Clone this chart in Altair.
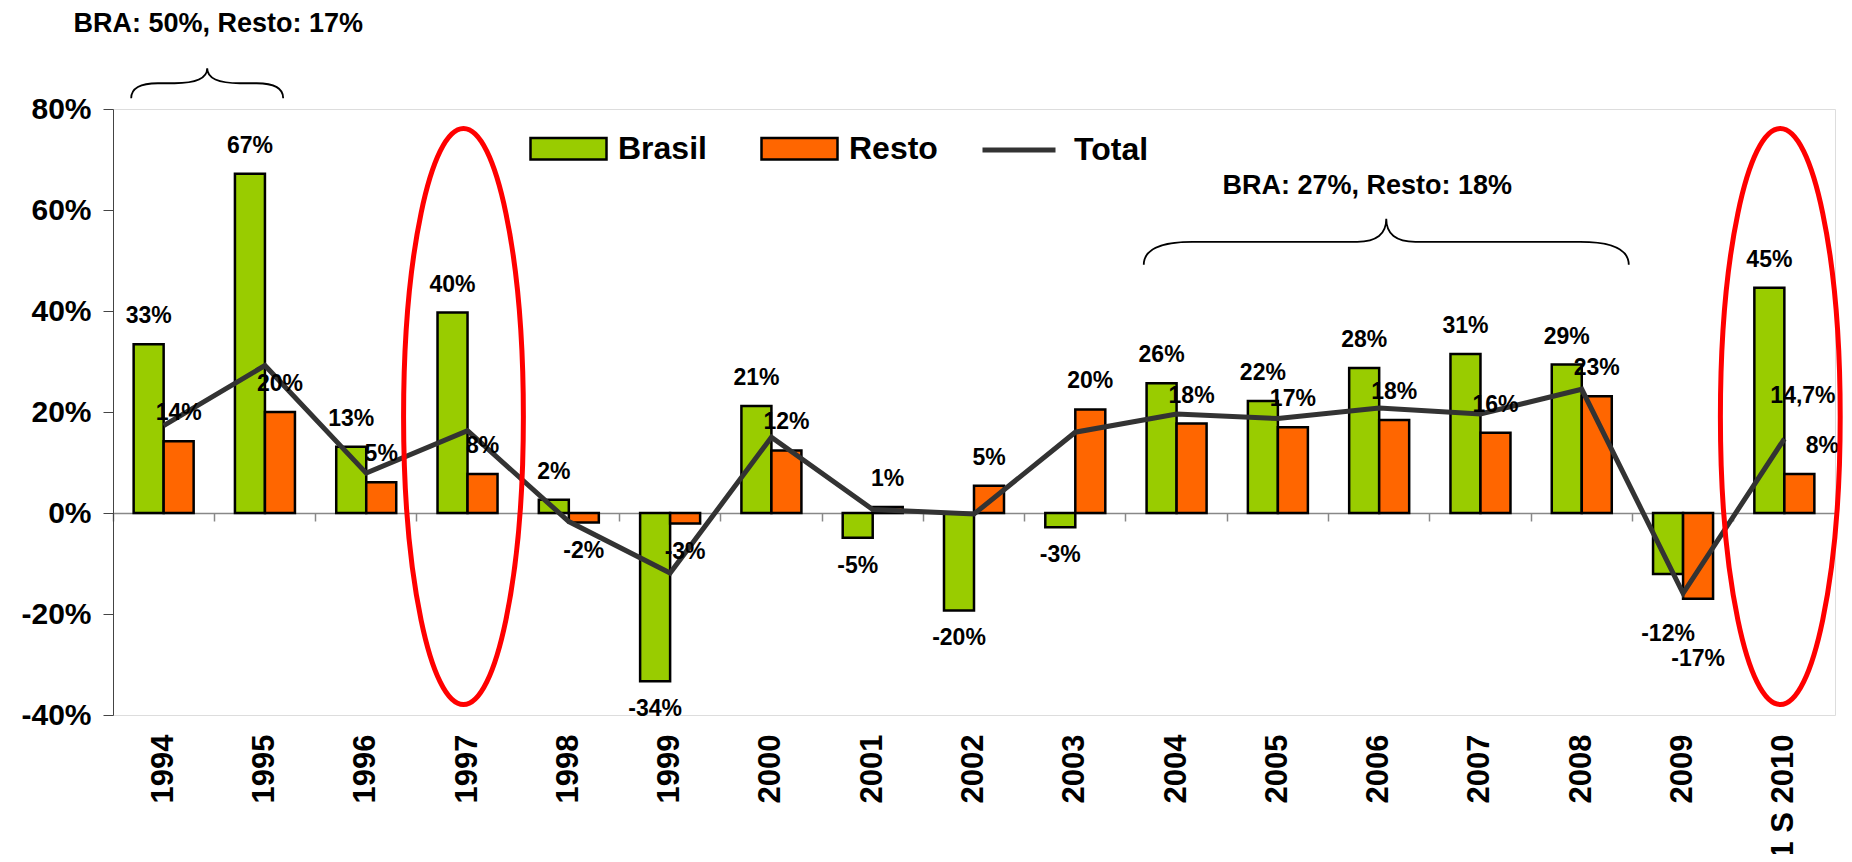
import altair as alt
import pandas as pd

# ---------------- data ----------------
years = ["1994", "1995", "1996", "1997", "1998", "1999", "2000", "2001", "2002",
         "2003", "2004", "2005", "2006", "2007", "2008", "2009", "1 S 2010"]
brasil = [33.4, 67.2, 13.1, 39.7, 2.6, -33.3, 21.2, -4.9, -19.3, -2.8,
          25.7, 22.2, 28.7, 31.5, 29.4, -12.1, 44.6]
resto = [14.2, 20.0, 6.1, 7.7, -1.9, -2.1, 12.4, 1.2, 5.4, 20.5,
         17.7, 17.0, 18.4, 15.9, 23.1, -17.0, 7.7]
total = [17.3, 29.2, 7.9, 16.3, -1.7, -11.9, 15.0, 0.7, -0.2, 16.0,
         19.6, 18.7, 20.8, 19.6, 24.5, -15.9, 14.7]
brasil_labels = ["33%", "67%", "13%", "40%", "2%", "-34%", "21%", "-5%", "-20%", "-3%",
                 "26%", "22%", "28%", "31%", "29%", "-12%", "45%"]
resto_labels = ["14%", "20%", "5%", "8%", "-2%", "-3%", "12%", "1%", "5%", "20%",
                "18%", "17%", "18%", "16%", "23%", "-17%", "8%"]
total_label = "14,7%"
bar_series = ["Brasil", "Resto"]
bar_colors = ["#99CC00", "#FF6600"]
line_series = ["Total"]
line_colors = ["#333333"]
annotation_texts = ["BRA: 50%, Resto: 17%", "BRA: 27%, Resto: 18%"]
highlight_years = ["1997", "1 S 2010"]
y_ticks = [-40, -20, 0, 20, 40, 60, 80]

FONT = "Liberation Sans"

bars_df = pd.DataFrame({
    "year": years * 2,
    "serie": ["Brasil"] * len(years) + ["Resto"] * len(years),
    "value": brasil + resto,
    "label": brasil_labels + resto_labels,
})
total_df = pd.DataFrame({"year": years, "serie": ["Total"] * len(years), "value": total})

# ---------------- scales / axes ----------------
cat_scale = alt.Scale(domain=years, paddingInner=0, paddingOuter=0)
off_scale = alt.Scale(domain=bar_series, paddingInner=0, paddingOuter=0.688)
y_scale = alt.Scale(domain=[-40, 80], nice=False, zero=False)
RECT = "M -1 -0.28 H 1 V 0.28 H -1 Z"

y_axis = alt.Axis(values=y_ticks, labelExpr="datum.value + '%'", title=None, grid=False,
                  labelFont=FONT, labelFontSize=30, labelFontWeight="bold", labelColor="black",
                  labelPadding=12, tickSize=10, tickColor="#444444", tickWidth=1,
                  domainColor="#444444", domainWidth=1)

bar_legend = alt.Legend(
    orient="none", legendX=416, legendY=0, direction="horizontal", title=None,
    symbolType=RECT, symbolSize=5776, symbolStrokeColor="black", symbolStrokeWidth=2.5,
    symbolOpacity=1, labelFont=FONT, labelFontSize=32, labelFontWeight="bold",
    labelColor="black", labelOffset=10, columnPadding=49, padding=0,
)
line_legend = alt.Legend(
    orient="none", legendX=867, legendY=2, direction="horizontal", title=None,
    symbolType="stroke", symbolSize=5329, symbolStrokeWidth=5, symbolOpacity=1,
    labelFont=FONT, labelFontSize=32, labelFontWeight="bold",
    labelColor="black", labelOffset=16, padding=0,
)

x_zero_axis = alt.Axis(orient="bottom", offset=-202, labels=False, ticks=True, tickSize=8,
                       tickColor="#888888", tickWidth=1.5, domainColor="#888888", domainWidth=1.5,
                       bandPosition=0, title=None, grid=False)
x_label_axis = alt.Axis(orient="bottom", domain=False, ticks=False, labelAngle=-90, labelPadding=19,
                        labelFont=FONT, labelFontSize=31, labelFontWeight="bold", labelColor="black",
                        title=None, grid=False, labelLimit=400)

# ---------------- layers ----------------
bars = alt.Chart(bars_df).mark_bar(stroke="black", strokeWidth=2.5).encode(
    x=alt.X("year:N", scale=cat_scale, axis=x_zero_axis),
    xOffset=alt.XOffset("serie:N", scale=off_scale),
    y=alt.Y("value:Q", scale=y_scale, axis=y_axis),
    color=alt.Color("serie:N", scale=alt.Scale(domain=bar_series, range=bar_colors), legend=bar_legend),
)

line = alt.Chart(total_df).mark_line(strokeWidth=5).encode(
    x=alt.X("year:N", scale=cat_scale, axis=x_label_axis),
    y=alt.Y("value:Q", scale=y_scale, axis=y_axis),
    color=alt.Color("serie:N", scale=alt.Scale(domain=line_series, range=line_colors), legend=line_legend),
)


def bar_labels(flt, dx, dy):
    return alt.Chart(bars_df).transform_filter(flt).mark_text(
        font=FONT, fontSize=23, fontWeight="bold", color="black", dx=dx, dy=dy, baseline="middle"
    ).encode(
        x=alt.X("year:N", scale=cat_scale, axis=None),
        xOffset=alt.XOffset("serie:N", scale=off_scale),
        y=alt.Y("value:Q", scale=y_scale, axis=y_axis),
        text="label:N",
    )


lab_pos = bar_labels("datum.value >= 0 && !(datum.year === '1 S 2010' && datum.serie === 'Resto')", 0, -28)
lab_neg = bar_labels("datum.value < 0 && datum.year !== '2009'", 0, 28)
lab_2009 = bar_labels("datum.value < 0 && datum.year === '2009'", 0, 60)
lab_2010 = bar_labels("datum.year === '1 S 2010' && datum.serie === 'Resto'", 23, -28)

total_lab = alt.Chart(total_df.tail(1).assign(t=total_label)).mark_text(
    font=FONT, fontSize=23, fontWeight="bold", color="black", align="left", dx=-14, dy=-43,
    baseline="middle"
).encode(
    x=alt.X("year:N", scale=cat_scale, axis=None),
    y=alt.Y("value:Q", scale=y_scale, axis=y_axis),
    text="t:N",
)


def annotation(text, year, band_pos, v, dx):
    d = pd.DataFrame({"year": [year], "v": [v], "t": [text]})
    return alt.Chart(d).mark_text(
        font=FONT, fontSize=27, fontWeight="bold", color="black", dx=dx, baseline="middle"
    ).encode(
        x=alt.X("year:N", scale=cat_scale, axis=None, bandPosition=band_pos),
        y=alt.Y("v:Q", scale=y_scale, axis=y_axis),
        text="t:N",
    )


ann1 = annotation(annotation_texts[0], "1994", 1.0, 96.9, 4)
ann2 = annotation(annotation_texts[1], "2006", 0.5, 64.7, -12)


def brace(year, band_pos, v, path, size):
    d = pd.DataFrame({"year": [year], "v": [v]})
    return alt.Chart(d).mark_point(
        shape=path, size=size, filled=False, stroke="black", strokeWidth=1.8, opacity=1
    ).encode(
        x=alt.X("year:N", scale=cat_scale, axis=None, bandPosition=band_pos),
        y=alt.Y("v:Q", scale=y_scale, axis=y_axis),
    )


brace1 = brace("1994", 0.93, 85.1,
               "M -1 0.197 Q -1 0 -0.65 0 L -0.43 0 Q 0 0 0 -0.197 Q 0 0 0.43 0 L 0.65 0 Q 1 0 1 0.197",
               23104)
brace2 = brace("2006", 0.57, 53.7,
               "M -1 0.095 Q -1 0 -0.8 0 L -0.12 0 Q 0 0 0 -0.095 Q 0 0 0.12 0 L 0.8 0 Q 1 0 1 0.095",
               235225)

ell_df = pd.DataFrame({"year": highlight_years, "v": [19.1] * len(highlight_years)})
ellipses = alt.Chart(ell_df).mark_point(
    shape="M -0.208 0 A 0.208 1 0 1 1 0.208 0 A 0.208 1 0 1 1 -0.208 0 Z",
    size=331776, filled=False, stroke="#FF0000", strokeWidth=5, opacity=1
).encode(
    x=alt.X("year:N", scale=cat_scale, axis=None, bandPosition=0.46),
    y=alt.Y("v:Q", scale=y_scale, axis=y_axis),
)

chart = alt.layer(
    bars, line, lab_pos, lab_neg, lab_2009, lab_2010, total_lab,
    ann1, ann2, brace1, brace2, ellipses
).resolve_axis(x="independent").resolve_scale(color="independent").properties(
    width=1722, height=606,
    autosize=alt.AutoSizeParams(type="none"),
    padding={"left": 105, "top": 101, "right": 9, "bottom": 139},
).configure_view(stroke=None).configure(background="white")

chart.save("out.html", embed_options={"renderer": "svg", "actions": False})
